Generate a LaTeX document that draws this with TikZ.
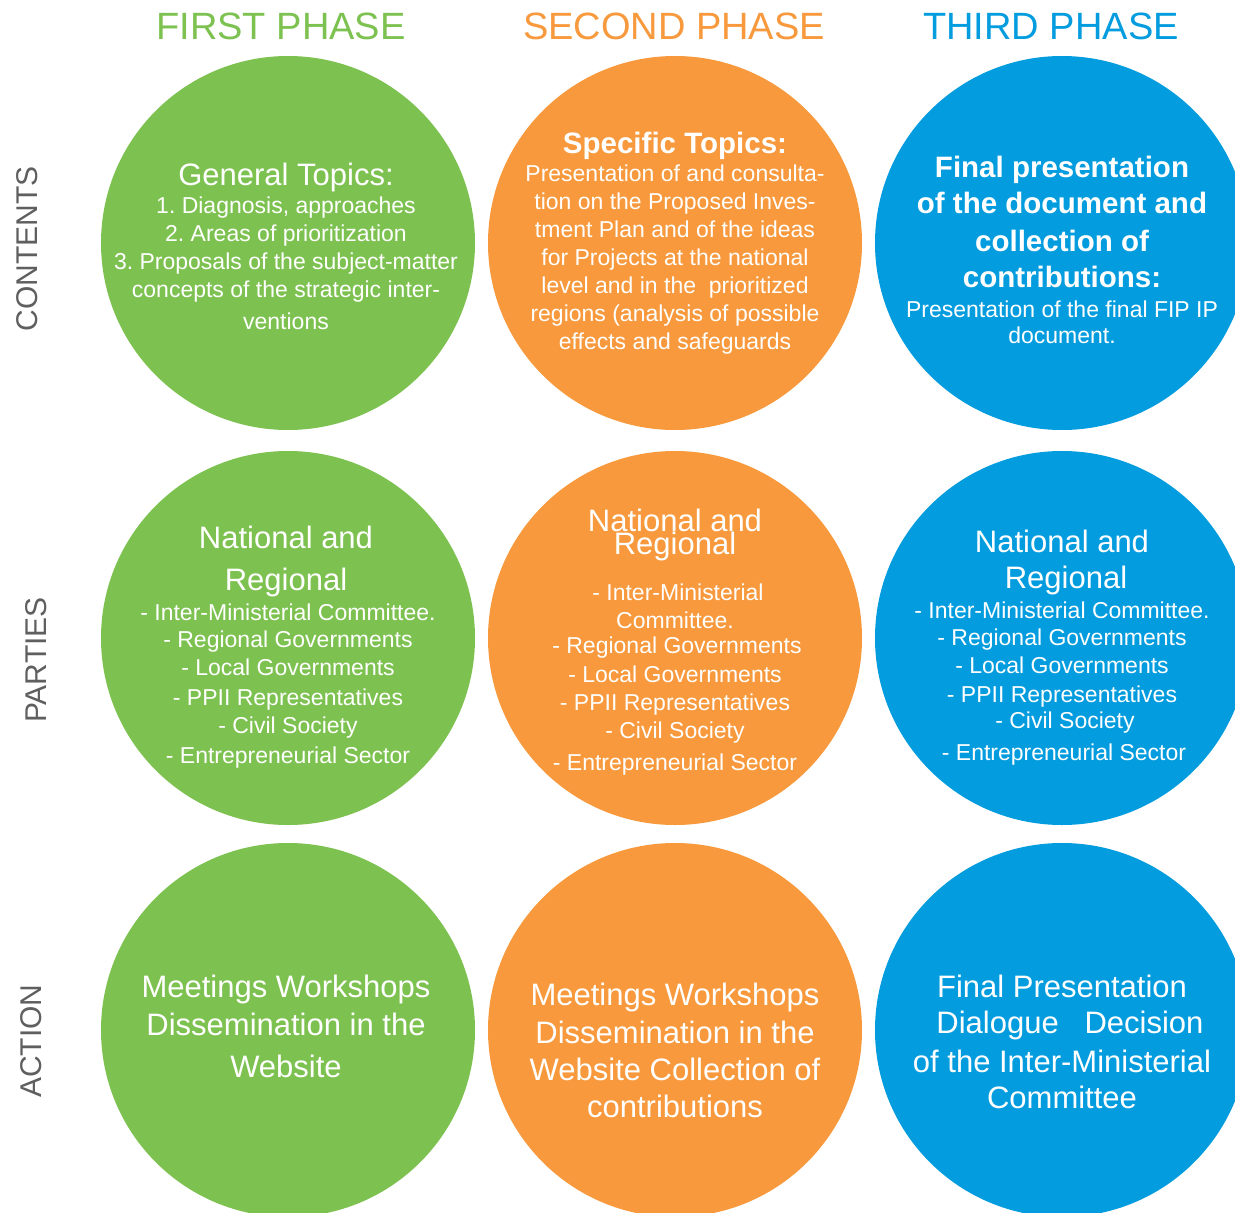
\documentclass[tikz,border=0pt]{standalone}
\usepackage{fontspec}
\setmainfont{Liberation Sans}
\definecolor{pgreen}{RGB}{125,194,80}
\definecolor{porange}{RGB}{247,153,60}
\definecolor{pblue}{RGB}{3,156,222}
\definecolor{plabel}{RGB}{95,95,95}
\begin{document}
\frenchspacing
\begin{tikzpicture}[x=1pt,y=-1pt,
  disc/.style={circle,minimum size=374pt,inner sep=0pt,draw=none},
  head/.style={font=\fontsize{38}{40}\selectfont,anchor=base,inner sep=0pt},
  rowlab/.style={font=\fontsize{30}{32}\selectfont,text=plabel,rotate=90,inner sep=0pt},
  big/.style={font=\fontsize{31}{34}\selectfont,text=white,anchor=base,inner sep=0pt},
  bigb/.style={font=\bfseries\fontsize{29.5}{34}\selectfont,text=white,anchor=base,inner sep=0pt},
  small/.style={font=\fontsize{23}{26}\selectfont,text=white,anchor=base,inner sep=0pt}]
\useasboundingbox (0,0) rectangle (1235,1213);
\clip (0,0) rectangle (1235,1213);
\fill[white] (0,0) rectangle (1235,1213);
% headings
\node[head,text=pgreen] (h1) at (281,39) {FIRST PHASE};
\node[head,text=porange] (h2) at (674,39) {SECOND PHASE};
\node[head,text=pblue] (h3) at (1051,39) {THIRD PHASE};
% row labels
\node[rowlab] (r1) at (27,249) {CONTENTS};
\node[rowlab] (r2) at (36,660) {PARTIES};
\node[rowlab] (r3) at (31,1041) {ACTION};
% circles
\node[disc,fill=pgreen] (c11) at (288,243) {};
\node[disc,fill=porange] (c12) at (675,243) {};
\node[disc,fill=pblue] (c13) at (1062,243) {};
\node[disc,fill=pgreen] (c21) at (288,638) {};
\node[disc,fill=porange] (c22) at (675,638) {};
\node[disc,fill=pblue] (c23) at (1062,638) {};
\node[disc,fill=pgreen] (c31) at (288,1030) {};
\node[disc,fill=porange] (c32) at (675,1030) {};
\node[disc,fill=pblue] (c33) at (1062,1030) {};
% contents, first phase
\node[big] (t11a) at (286,185) {General Topics:};
\node[small] (t11b) at (286,213) {1. Diagnosis, approaches};
\node[small] (t11c) at (286,241) {2. Areas of prioritization};
\node[small] (t11d) at (286,269) {3. Proposals of the subject-matter};
\node[small] (t11e) at (286,297) {concepts of the strategic inter-};
\node[small] (t11f) at (286,329) {ventions};
% contents, second phase
\node[bigb] (t12a) at (675,153) {Specific Topics:};
\node[small] (t12b) at (675,181) {Presentation of and consulta-};
\node[small] (t12c) at (675,209) {tion on the Proposed Inves-};
\node[small] (t12d) at (675,237) {tment Plan and of the ideas};
\node[small] (t12e) at (675,265) {for Projects at the national};
\node[small] (t12f) at (675,293) {level and in the\ \ prioritized};
\node[small] (t12g) at (675,321) {regions (analysis of possible};
\node[small] (t12h) at (675,349) {effects and safeguards};
% contents, third phase
\node[bigb] (t13a) at (1062,177) {Final presentation};
\node[bigb] (t13b) at (1062,213) {of the document and};
\node[bigb] (t13c) at (1062,251) {collection of};
\node[bigb] (t13d) at (1062,287) {contributions:};
\node[small] (t13e) at (1062,317) {Presentation of the final FIP IP};
\node[small] (t13f) at (1062,343) {document.};
% parties, first phase
\node[big] (t21a) at (286,548) {National and};
\node[big] (t21b) at (286,590) {Regional};
\node[small] (t21c) at (288,620) {- Inter-Ministerial Committee.};
\node[small] (t21d) at (288,647) {- Regional Governments};
\node[small] (t21e) at (288,675) {- Local Governments};
\node[small] (t21f) at (288,705) {- PPII Representatives};
\node[small] (t21g) at (288,733) {- Civil Society};
\node[small] (t21h) at (288,763) {- Entrepreneurial Sector};
% parties, second phase
\node[big] (t22a) at (675,531) {National and};
\node[big] (t22b) at (675,554) {Regional};
\node[small] (t22c) at (678,600) {- Inter-Ministerial};
\node[small] (t22d) at (675,628) {Committee.};
\node[small] (t22e) at (677,653) {- Regional Governments};
\node[small] (t22f) at (675,682) {- Local Governments};
\node[small] (t22g) at (675,710) {- PPII Representatives};
\node[small] (t22h) at (675,738) {- Civil Society};
\node[small] (t22i) at (675,770) {- Entrepreneurial Sector};
% parties, third phase
\node[big] (t23a) at (1062,552) {National and};
\node[big] (t23b) at (1066,588) {Regional};
\node[small] (t23c) at (1062,618) {- Inter-Ministerial Committee.};
\node[small] (t23d) at (1062,645) {- Regional Governments};
\node[small] (t23e) at (1062,673) {- Local Governments};
\node[small] (t23f) at (1062,702) {- PPII Representatives};
\node[small] (t23g) at (1065,728) {- Civil Society};
\node[small] (t23h) at (1064,760) {- Entrepreneurial Sector};
% action, first phase
\node[big] (t31a) at (286,997) {Meetings Workshops};
\node[big] (t31b) at (286,1035) {Dissemination in the};
\node[big] (t31c) at (286,1077) {Website};
% action, second phase
\node[big] (t32a) at (675,1005) {Meetings Workshops};
\node[big] (t32b) at (675,1043) {Dissemination in the};
\node[big] (t32c) at (675,1080) {Website Collection of};
\node[big] (t32d) at (675,1117) {contributions};
% action, third phase
\node[big] (t33a) at (1062,997) {Final Presentation};
\node[big] (t33b) at (1070,1033) {Dialogue\ \ \ Decision};
\node[big] (t33c) at (1062,1072) {of the Inter-Ministerial};
\node[big] (t33d) at (1062,1108) {Committee};
\end{tikzpicture}
\end{document}
